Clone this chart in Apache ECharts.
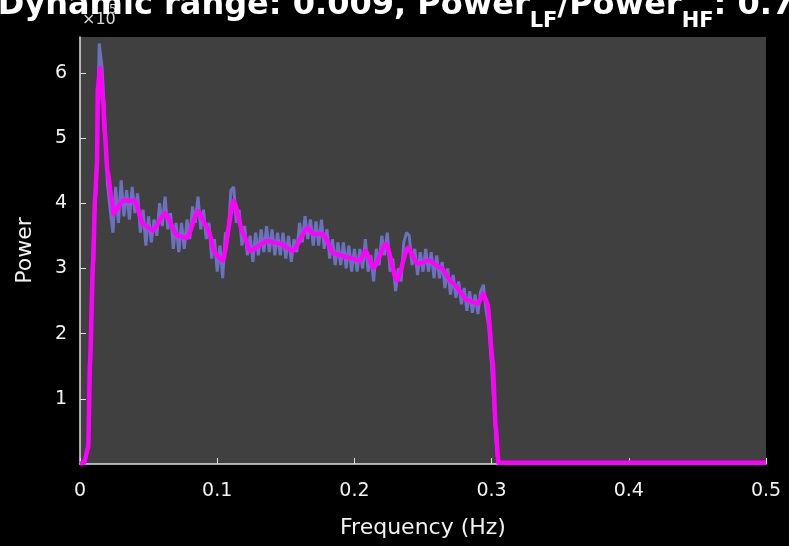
<!DOCTYPE html>
<html>
<head>
<meta charset="utf-8">
<script src="https://cdn.jsdelivr.net/npm/echarts@6/dist/echarts.min.js"></script>
<style>
html,body{margin:0;padding:0;background:#000;}
#c{width:789px;height:546px;}
</style>
</head>
<body>
<div id="c"></div>
<script>
// Power values are in units of 10^5
const xTicks = [0, 0.1, 0.2, 0.3, 0.4, 0.5];
const yTicks = [1, 2, 3, 4, 5, 6];
const blueStep = 0.002; // frequency spacing of the raw spectrum samples (Hz)
const bluePower = [
0.01,0.03,0.08,0.3,2.1,3.6,4.4,6.45,6.1,5.3,
4.3,3.9,3.55,4.25,3.7,4.35,3.8,4.2,3.75,4.25,
3.85,4.15,3.55,3.9,3.35,3.8,3.4,3.75,3.5,4.0,
3.65,4.1,3.6,3.85,3.3,3.7,3.25,3.7,3.3,3.75,
3.45,3.95,3.7,4.1,3.6,3.9,3.45,3.7,3.15,3.45,
2.95,3.35,2.85,3.55,3.5,4.2,4.25,3.7,3.9,3.35,
3.65,3.2,3.5,3.1,3.55,3.2,3.6,3.25,3.65,3.25,
3.6,3.2,3.55,3.2,3.55,3.15,3.5,3.1,3.45,3.25,
3.7,3.4,3.8,3.45,3.75,3.35,3.72,3.35,3.75,3.3,
3.6,3.15,3.45,3.05,3.4,3.05,3.4,3.0,3.35,2.95,
3.3,2.95,3.3,3.0,3.45,2.95,3.2,2.8,3.3,3.05,
3.5,3.2,3.55,2.95,3.15,2.65,3.0,2.8,3.4,3.55,
3.5,3.05,3.3,2.9,3.25,2.95,3.3,2.95,3.25,2.85,
3.2,2.85,3.1,2.7,3.0,2.6,2.9,2.55,2.8,2.45,
2.7,2.35,2.65,2.32,2.6,2.3,2.65,2.75,2.35,2.1,
1.5,0.8,0.12,0.02
];
const magFreq = [0,0.003,0.006,0.0073,0.0095,0.011,0.0124,0.013,0.0146,0.0168,
0.018,0.020,0.023,0.0245,0.031,0.040,0.046,0.053,0.062,0.071,
0.078,0.086,0.093,0.0985,0.104,0.112,0.119,0.124,0.1365,0.146,
0.155,0.166,0.170,0.177,0.185,0.195,0.204,0.208,0.214,0.223,
0.231,0.239,0.246,0.254,0.263,0.272,0.2825,0.290,0.294,0.297,
0.3007,0.303,0.305,0.5];
const magPower = [0,0.02,0.26,1.55,3.07,4.08,4.6,5.76,6.07,5.6,
5.1,4.5,4.08,3.84,4.04,4.04,3.68,3.58,3.85,3.5,
3.47,3.88,3.62,3.23,3.12,4.04,3.53,3.27,3.42,3.38,
3.27,3.62,3.53,3.53,3.23,3.17,3.12,3.27,3.01,3.38,
2.81,3.32,3.07,3.12,3.01,2.77,2.51,2.46,2.61,2.46,
1.59,0.56,0.02,0.02];
const blueTail = [0.5, 0.02];

const blueData = bluePower.map((v, i) => [+(i * blueStep).toFixed(4), v]);
blueData.push(blueTail);
const magData = magFreq.map((f, i) => [f, magPower[i]]);

const chart = echarts.init(document.getElementById('c'), null, {renderer: 'canvas'});
const txt = '#f2f2f2';
chart.setOption({
  backgroundColor: '#000',
  animation: false,
  title: {
    text: '{m|Dynamic range: 0.009, Power}{s|LF}{m|/Power}{s|HF}{m|: 0.7}',
    left: 396, textAlign: 'center', top: -10, padding: 0,
    textStyle: {
      rich: {
        m: {fontFamily: 'DejaVu Sans', fontSize: 32, fontWeight: 'bold', color: '#fff', lineHeight: 32, verticalAlign: 'top'},
        s: {fontFamily: 'DejaVu Sans', fontSize: 21, fontWeight: 'bold', color: '#fff', lineHeight: 21, padding: [21, 0, 0, 0], verticalAlign: 'top'}
      }
    }
  },
  graphic: [
    {type: 'text', left: 82, top: 12, style: {text: '×10', fontFamily: 'DejaVu Sans', fontSize: 16, fill: '#d8d8d8'}},
    {type: 'text', left: 109, top: 4, style: {text: '5', fontFamily: 'DejaVu Sans', fontSize: 12, fill: '#d8d8d8'}}
  ],
  grid: {left: 80, right: 23, top: 37, bottom: 82, show: true, backgroundColor: '#404040', borderWidth: 0},
  xAxis: {
    type: 'value', min: 0, max: 0.5, interval: 0.1,
    name: 'Frequency (Hz)', nameLocation: 'middle', nameGap: 53,
    nameTextStyle: {fontFamily: 'DejaVu Sans', fontSize: 22, color: txt},
    axisLine: {show: true, lineStyle: {color: '#e0e0e0', width: 1.5}},
    axisTick: {show: true, inside: true, length: 6, lineStyle: {color: '#e0e0e0'}, customValues: xTicks},
    axisLabel: {fontFamily: 'DejaVu Sans', fontSize: 19, color: txt, margin: 18, customValues: xTicks,
      formatter: v => String(+v.toFixed(1))},
    splitLine: {show: false}
  },
  yAxis: {
    type: 'value', min: 0, max: 6.55, interval: 1,
    name: 'Power', nameLocation: 'middle', nameGap: 44, nameRotate: 90,
    nameTextStyle: {fontFamily: 'DejaVu Sans', fontSize: 22, color: txt},
    axisLine: {show: true, lineStyle: {color: '#e0e0e0', width: 1.5}},
    axisTick: {show: true, inside: true, length: 6, lineStyle: {color: '#e0e0e0'}, customValues: yTicks},
    axisLabel: {fontFamily: 'DejaVu Sans', fontSize: 19, color: txt, margin: 13, customValues: yTicks},
    splitLine: {show: false}
  },
  series: [
    {type: 'line', data: blueData, symbol: 'none', lineStyle: {color: '#6b72bd', width: 3}, z: 2},
    {type: 'line', data: magData, symbol: 'none', smooth: 0.2, smoothMonotone: 'x', lineStyle: {color: '#ff00ff', width: 4.5}, z: 3}
  ]
});
</script>
</body>
</html>
